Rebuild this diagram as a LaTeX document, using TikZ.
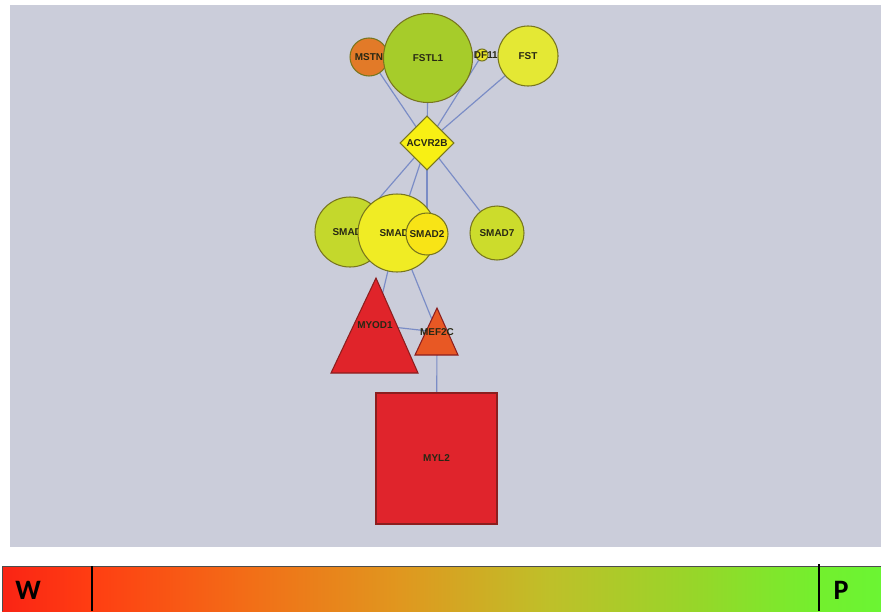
\documentclass[tikz,border=0pt]{standalone}
\usepackage{fontspec}
\setmainfont{Liberation Sans}
\newfontfamily\barfont{Carlito}
\usepackage{xcolor,tikz}
\usetikzlibrary{shapes.geometric,backgrounds}
\tikzset{>=stealth}
\definecolor{panel}{RGB}{203,205,218}
\definecolor{edgeblue}{RGB}{122,140,198}
\definecolor{geneline}{RGB}{120,118,30}
\definecolor{redline}{RGB}{140,30,30}
\definecolor{genetext}{RGB}{40,40,20}
\definecolor{mstnc}{RGB}{226,122,40}
\definecolor{fstlc}{RGB}{166,204,42}
\definecolor{gdfc}{RGB}{232,226,40}
\definecolor{fstc}{RGB}{228,232,52}
\definecolor{acvrc}{RGB}{248,240,20}
\definecolor{smadthreec}{RGB}{196,216,44}
\definecolor{smadfourc}{RGB}{240,236,36}
\definecolor{smadtwoc}{RGB}{248,228,22}
\definecolor{smadsevenc}{RGB}{204,220,44}
\definecolor{myodc}{RGB}{224,36,42}
\definecolor{mefc}{RGB}{232,88,36}
\definecolor{mylc}{RGB}{224,36,44}
\pgfdeclarehorizontalshading{wpbar}{100bp}{rgb(0bp)=(0.98,0.14,0.08); rgb(25bp)=(0.98,0.14,0.08); rgb(30bp)=(1,0.24,0.07); rgb(39bp)=(0.95,0.43,0.09); rgb(47.5bp)=(0.88,0.59,0.12); rgb(56bp)=(0.75,0.75,0.16); rgb(64.5bp)=(0.59,0.84,0.16); rgb(71.5bp)=(0.45,0.94,0.18); rgb(75bp)=(0.42,0.96,0.2); rgb(100bp)=(0.42,0.96,0.2)}

\begin{document}
\begin{tikzpicture}[x=0.03cm,y=-0.03cm,
  gene/.style={circle, draw=geneline, line width=0.9pt, inner sep=0pt, text=genetext, font=\bfseries\fontsize{8.5}{9}\selectfont},
  hub/.style={diamond, aspect=1, draw=geneline, line width=0.9pt, inner sep=0pt, text=genetext, font=\bfseries\fontsize{8.5}{9}\selectfont},
  tag/.style={inner sep=0pt, text=genetext, font=\bfseries\fontsize{8.5}{9}\selectfont},
  redshape/.style={draw=redline, line width=0.9pt},
  link/.style={draw=edgeblue, line width=1pt}]
\useasboundingbox (0,0) rectangle (881,611);
%%%% top row
\node[gene, fill=mstnc, minimum size=1.14cm] (MSTN) at (369,57) {MSTN};
\node[gene, fill=gdfc, minimum size=0.36cm, label={[tag]center:GDF11}] (GDF11) at (482,55) {};
\node[gene, fill=fstlc, minimum size=2.67cm] (FSTL1) at (428,58) {FSTL1};
\node[gene, fill=fstc, minimum size=1.8cm] (FST) at (528,56) {FST};
%%%% receptor
\node[hub, fill=acvrc, minimum size=1.62cm] (ACVR2B) at (427,143) {ACVR2B};
%%%% smads
\node[gene, fill=smadthreec, minimum size=2.1cm] (SMAD3) at (350,232) {SMAD3};
\node[gene, fill=smadfourc, minimum size=2.34cm] (SMAD4) at (397,233) {SMAD4};
\node[gene, fill=smadtwoc, minimum size=1.26cm] (SMAD2) at (427,234) {SMAD2};
\node[gene, fill=smadsevenc, minimum size=1.62cm] (SMAD7) at (497,233) {SMAD7};
%%%% targets
\draw[redshape, fill=myodc] (331,373) -- (376,278) -- (418,373) -- cycle;
\node[tag] (MYOD1) at (375,325) {MYOD1};
\draw[redshape, fill=mefc] (415,355) -- (437,308) -- (458,355) -- cycle;
\node[tag] (MEF2C) at (437,332) {MEF2C};
\node[redshape, fill=mylc, rectangle, minimum width=3.63cm, minimum height=3.93cm, tag] (MYL2) at (436.5,458.5) {MYL2};
%%%% links
\begin{scope}[on background layer]
\fill[panel] (10,5) rectangle (881,547);
\draw[link] (MSTN.center) -- (ACVR2B.center);
\draw[link] (FSTL1.center) -- (ACVR2B.center);
\draw[link] (GDF11.center) -- (ACVR2B.center);
\draw[link] (FST.center) -- (ACVR2B.center);
\draw[link] (ACVR2B.center) -- (SMAD3.center);
\draw[link] (ACVR2B.center) -- (SMAD4.center);
\draw[link] (ACVR2B.center) -- (SMAD2.center);
\draw[link] (ACVR2B.center) -- (SMAD7.center);
\draw[link] (SMAD4.center) -- (MYOD1.center);
\draw[link] (SMAD4.center) -- (MEF2C.center);
\draw[link] (MYOD1.center) -- (MEF2C.center);
\draw[link] (MEF2C.center) -- (MYL2.center);
\end{scope}
%%%% colour bar
\shade[shading=wpbar] (2,566) rectangle (881,611);
\draw[black!70, line width=0.5pt] (2,611) -- (2,566) -- (881,566);
\draw[line width=2.5pt] (92,566) -- (92,611);
\draw[line width=2.5pt] (819,564) -- (819,611);
\node[font=\barfont\bfseries\fontsize{24}{24}\selectfont, inner sep=0pt] (W) at (28,590) {W};
\node[font=\barfont\bfseries\fontsize{24}{24}\selectfont, inner sep=0pt] (P) at (841,590) {P};
\end{tikzpicture}
\end{document}
